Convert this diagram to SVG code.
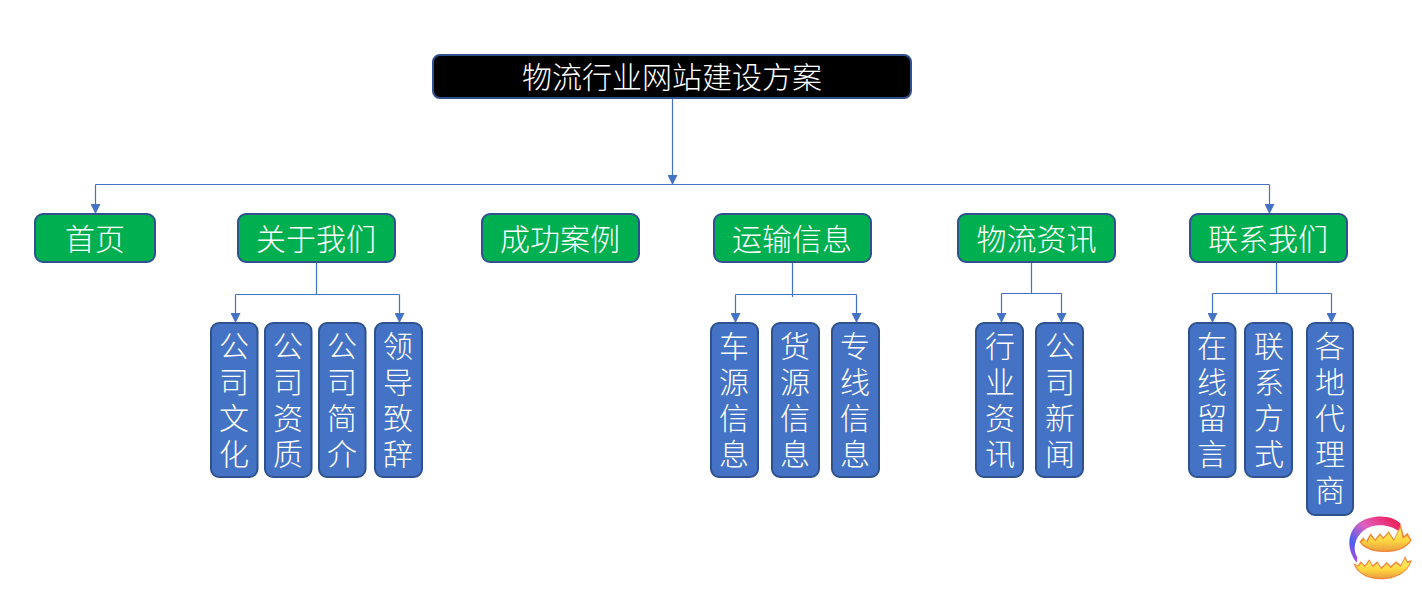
<svg xmlns="http://www.w3.org/2000/svg" width="1422" height="590" viewBox="0 0 1422 590">
<style>
.b{stroke:#2f528f;stroke-width:2}
.k{fill:#000}.g{fill:#00b050}.v{fill:#4472c4}
text{font-family:"Noto Sans CJK SC","Liberation Sans",sans-serif;font-size:30px;fill:#fff;text-anchor:middle;font-weight:300}
.u{writing-mode:vertical-rl;text-anchor:start;letter-spacing:6px}
.c{fill:none;stroke:#4472c4;stroke-width:1.2}
.a{fill:#4472c4}
</style>
<defs>
<marker id="ar" markerUnits="userSpaceOnUse" markerWidth="11" markerHeight="10" refX="10" refY="5" orient="auto"><path d="M0 0L10 5L0 10Z" class="a"/></marker>
<linearGradient id="ring" x1="0" y1="1" x2="1" y2="0"><stop offset="0" stop-color="#d040d0"/><stop offset=".25" stop-color="#4a60f0"/><stop offset=".55" stop-color="#e060c0"/><stop offset="1" stop-color="#f01040"/></linearGradient>
<linearGradient id="fl" x1="0" y1="0" x2="0" y2="1"><stop offset="0" stop-color="#fff070"/><stop offset=".55" stop-color="#ffd840"/><stop offset="1" stop-color="#eca040"/></linearGradient>
</defs>
<g id="connectors">
<path class="c" d="M672.500 98V185" marker-end="url(#ar)"/>
<path class="c" d="M95.500 184.500H1269.500"/>
<path class="c" d="M95.500 184.500V214" marker-end="url(#ar)"/>
<path class="c" d="M1269.500 184.500V214" marker-end="url(#ar)"/>
<path class="c" d="M316.500 262V294.500M235.500 294.500H399.500"/>
<path class="c" d="M235.500 294.500V323" marker-end="url(#ar)"/>
<path class="c" d="M399.500 294.500V323" marker-end="url(#ar)"/>
<path class="c" d="M792.500 262V297M735.500 294.500H856.500"/>
<path class="c" d="M735.500 294.500V323" marker-end="url(#ar)"/>
<path class="c" d="M856.500 294.500V323" marker-end="url(#ar)"/>
<path class="c" d="M1031.500 262V293.500M1001.500 293.500H1061.500"/>
<path class="c" d="M1001.500 293.500V323" marker-end="url(#ar)"/>
<path class="c" d="M1061.500 293.500V323" marker-end="url(#ar)"/>
<path class="c" d="M1276.500 262V293.500M1212.500 293.500H1331.500"/>
<path class="c" d="M1212.500 293.500V323" marker-end="url(#ar)"/>
<path class="c" d="M1331.500 293.500V323" marker-end="url(#ar)"/>
</g>
<g id="root"><rect class="b k" x="433" y="55" width="478" height="43" rx="7"/><text x="672" y="88">物流行业网站建设方案</text></g>
<g id="n1"><rect class="b g" x="35" y="214" width="120" height="48" rx="8"/><text x="95" y="250">首页</text></g>
<g id="n2"><rect class="b g" x="238" y="214" width="157" height="48" rx="8"/><text x="316" y="250">关于我们</text></g>
<g id="n3"><rect class="b g" x="482" y="214" width="157" height="48" rx="8"/><text x="560" y="250">成功案例</text></g>
<g id="n4"><rect class="b g" x="714" y="214" width="157" height="48" rx="8"/><text x="792" y="250">运输信息</text></g>
<g id="n5"><rect class="b g" x="958" y="214" width="157" height="48" rx="8"/><text x="1036.500" y="250">物流资讯</text></g>
<g id="n6"><rect class="b g" x="1190" y="214" width="157" height="48" rx="8"/><text x="1268" y="250">联系我们</text></g>
<g id="a1"><rect class="b v" x="211" y="323" width="46.500" height="154" rx="8"/><text class="u" x="234" y="331">公司文化</text></g>
<g id="a2"><rect class="b v" x="265" y="323" width="46.500" height="154" rx="8"/><text class="u" x="288" y="331">公司资质</text></g>
<g id="a3"><rect class="b v" x="319" y="323" width="46.500" height="154" rx="8"/><text class="u" x="342" y="331">公司简介</text></g>
<g id="a4"><rect class="b v" x="375" y="323" width="47" height="154" rx="8"/><text class="u" x="398" y="331">领导致辞</text></g>
<g id="t1"><rect class="b v" x="711" y="323" width="47" height="154" rx="8"/><text class="u" x="734" y="331">车源信息</text></g>
<g id="t2"><rect class="b v" x="772" y="323" width="47" height="154" rx="8"/><text class="u" x="795" y="331">货源信息</text></g>
<g id="t3"><rect class="b v" x="832" y="323" width="47" height="154" rx="8"/><text class="u" x="855" y="331">专线信息</text></g>
<g id="w1"><rect class="b v" x="976" y="323" width="47" height="154" rx="8"/><text class="u" x="1000" y="331">行业资讯</text></g>
<g id="w2"><rect class="b v" x="1036" y="323" width="47" height="154" rx="8"/><text class="u" x="1060" y="331">公司新闻</text></g>
<g id="c1"><rect class="b v" x="1189" y="323" width="46.500" height="154" rx="8"/><text class="u" x="1212" y="331">在线留言</text></g>
<g id="c2"><rect class="b v" x="1245" y="323" width="47" height="154" rx="8"/><text class="u" x="1269" y="331">联系方式</text></g>
<g id="c3"><rect class="b v" x="1307" y="323" width="46" height="192" rx="8"/><text class="u" x="1330" y="331">各地代理商</text></g>
<g id="logo" transform="translate(1330 500) scale(.3333)">
<path d="M80 188C50 150 50 100 85 70C125 40 190 45 212 72L208 95C180 72 130 68 100 92C72 115 68 150 82 172Z" fill="url(#ring)"/>
<path d="M88 125L100 112L108 124L122 100L135 118L150 100L160 112L176 94L192 118L212 74L222 108L232 98L245 120C230 150 190 157 160 156C125 155 100 145 88 125Z" fill="#f48838"/>
<path d="M94 126L104 118L112 128L122 108L136 124L150 106L160 118L176 100L191 124L211 84L218 116L232 108L240 121C226 146 190 153 160 152C128 151 106 142 94 126Z" fill="url(#fl)"/>
<path d="M70 190L84 196L92 184L104 196L118 178L128 196L142 184L154 202L170 186L182 198L198 184L212 194L226 168L232 184L245 180C235 222 190 239 150 238C110 237 80 220 70 190Z" fill="#f48838"/>
<path d="M76 194L86 200L94 190L104 202L118 184L128 202L142 190L154 208L170 192L182 204L198 190L212 200L225 176L232 190L240 186C230 220 190 234 150 234C114 233 86 218 76 194Z" fill="url(#fl)"/>
</g>
</svg>
